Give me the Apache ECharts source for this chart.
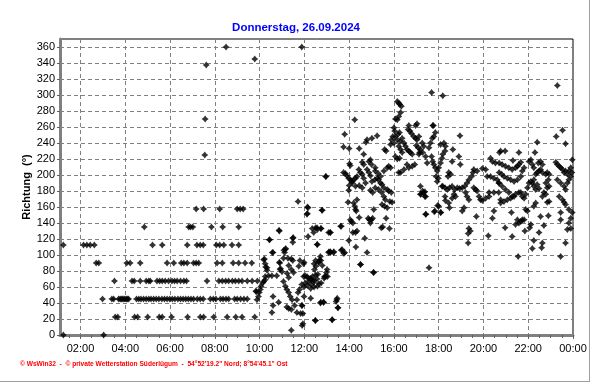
<!DOCTYPE html>
<html><head><meta charset="utf-8">
<script src="https://cdn.jsdelivr.net/npm/echarts@6/dist/echarts.min.js"></script>
<style>html,body{margin:0;padding:0;background:#fff}#c{width:592px;height:384px}</style>
</head><body><div id="c"></div>
<script>
const chartTitle = 'Donnerstag, 26.09.2024';
const yAxisName = 'Richtung  (°)';
const footerText = '\u00A9 WsWin32  -  \u00A9 private Wetterstation S\u00FCderl\u00FCgum  -  54\u00B052\'19.2" Nord; 8\u00B054\'45.1" Ost';

// x in minutes after midnight (26.09.2024), y in degrees
const xMin = 65, xMax = 1440;
const xTicks = [120, 240, 360, 480, 600, 720, 840, 960, 1080, 1200, 1320, 1440];
const xMinorTicks = [90, 120, 150, 180, 210, 240, 270, 300, 330, 360, 390, 420, 450, 480, 510, 540, 570, 600, 630, 660, 690, 720, 750, 780, 810, 840, 870, 900, 930, 960, 990, 1020, 1050, 1080, 1110, 1140, 1170, 1200, 1230, 1260, 1290, 1320, 1350, 1380, 1410, 1440];
const yTicks = [0, 20, 40, 60, 80, 100, 120, 140, 160, 180, 200, 220, 240, 260, 280, 300, 320, 340, 360];

// early morning: compass-sector readings, minutes per direction
const at22 = [213, 220, 265, 273, 300, 331, 339, 364, 407, 441, 450, 477, 513, 536, 553, 587];
const at45 = [179, 204, 209, 222, 226, 229, 232, 236, 239, 243, 246, 249, 270, 276, 282, 289, 296, 303, 309, 316, 323, 330, 338, 345, 352, 359, 366, 373, 381, 388, 395, 402, 409, 416, 423, 433, 441, 449, 468, 476, 483, 495, 502, 510, 517, 533, 540, 549, 558, 567];
const at67 = [211, 258, 264, 280, 296, 303, 307, 325, 332, 339, 347, 356, 365, 372, 379, 388, 397, 404, 459, 491, 500, 509, 517, 527, 535, 544, 553, 567, 580, 594];
const at90 = [162, 169, 244, 253, 280, 352, 370, 390, 397, 406, 423, 430, 437, 486, 500, 529, 544, 561, 579];
const at112 = [74, 128, 137, 146, 157, 313, 339, 406, 432, 441, 449, 484, 493, 504, 526, 544];
const at135 = [291, 410, 415, 421, 471, 501, 544];
const at157 = [430, 450, 493, 540, 548, 556];
const earlyOutliers = [[510, 360], [457, 337.5], [587, 345], [713, 360], [454, 270], [453, 225], [74, 0], [182, 0]];

// 10:00 - 13:30 rising phase
const rampPoints = [[591,54],[590,55],[593,44],[597,48],[599,53],[602,57],[604,61],[608,65],[611,67],[615,69],[613,95],[615,89],[620,84],[615,73],[611,94],[616,85],[620,81],[624,74],[633,74],[646,74],[626,119],[627,119],[652,131],[653,130],[636,103],[634,103],[669,107],[667,103],[664,96],[653,91],[655,82],[660,79],[676,96],[685,95],[689,93],[705,86],[678,87],[685,82],[691,78],[718,89],[751,86],[758,91],[761,94],[763,98],[779,78],[781,82],[664,67],[669,61],[673,57],[678,53],[682,48],[687,44],[673,35],[678,33],[685,32],[694,37],[700,44],[700,28],[713,37],[716,27],[703,53],[707,57],[636,48],[636,37],[633,28],[651,41],[718,73],[722,74],[727,73],[731,71],[713,63],[722,65],[731,67],[738,69],[738,63],[745,66],[754,70],[756,76],[747,82],[742,73],[765,65],[774,73],[782,73],[763,40],[772,41],[749,18],[716,14],[685,6],[689,121],[689,116],[730,123],[745,128],[754,134],[765,133],[754,113],[785,128],[785,103],[703,167],[730,159],[727,151],[767,156],[778,198],[665,106],[670,108],[690,122],[708,93],[674,77],[678,72],[656,83],[654,90],[741,133],[750,134],[755,132],[764,133],[755,113],[789,128],[817,136],[790,104],[799,104],[786,104],[819,106],[826,102],[871,88],[905,78],[719,91],[746,89],[750,93],[759,91],[764,93],[768,87],[737,71],[746,68],[750,75],[773,71],[777,73],[719,60],[728,62],[737,58],[746,60],[755,61],[759,64],[719,48],[737,46],[764,41],[771,41],[808,46],[810,34],[714,37],[710,27],[714,12],[750,18],[795,19],[777,198],[728,160],[728,152],[768,156]];

// 13:00 - 17:00
const afternoonPoints = [[794,19],[807,44],[805,42],[810,34],[790,103],[798,103],[790,128],[819,136],[821,107],[828,103],[839,118],[850,128],[857,128],[861,130],[843,144],[846,142],[850,140],[837,166],[852,165],[855,161],[857,157],[859,155],[861,169],[867,147],[858,110],[870,88],[882,121],[888,103],[891,146],[894,144],[897,140],[900,144],[903,146],[906,157],[906,78],[926,134],[930,135],[948,133],[939,146],[928,163],[935,161],[942,159],[955,166],[839,181],[825,203],[830,202],[834,199],[839,196],[843,194],[848,192],[852,194],[857,196],[861,198],[866,207],[870,203],[875,201],[879,196],[884,190],[888,207],[893,203],[897,199],[879,213],[893,217],[900,213],[910,209],[901,192],[909,194],[915,196],[919,194],[924,190],[928,188],[933,184],[942,182],[910,205],[918,202],[924,198],[933,205],[942,209],[946,211],[951,209],[935,232],[939,230],[888,244],[885,241],[901,246],[915,249],[828,251],[825,235],[840,233],[855,269],[867,233],[879,226],[875,216],[897,219],[841,214],[843,212],[857,186],[867,187],[875,184],[840,187],[848,190],[897,181],[903,178],[910,184],[919,182],[927,178],[933,173],[937,169],[946,180],[953,178],[949,167],[973,203],[969,292],[973,290],[976,288],[980,286],[978,278],[973,273],[969,269],[964,270],[960,259],[962,255],[957,248],[953,244],[960,240],[951,238],[964,248],[971,251],[975,253],[969,244],[977,242],[982,246],[987,240],[991,236],[995,232],[1000,230],[1004,228],[1009,226],[998,257],[1003,255],[1007,252],[1013,248],[1018,246],[1022,244],[1000,262],[1022,264],[1018,262],[973,236],[978,232],[982,228],[975,221],[969,220],[964,223],[995,213],[1000,209],[1009,211],[1016,213],[978,203],[987,207],[1020,237],[1025,234],[1029,228],[1031,176]];

// 17:00 - 20:45
const eveningPoints = [[1061,303],[1091,299],[1064,262],[1027,248],[1036,240],[1040,236],[1031,232],[1027,226],[1037,228],[1045,223],[1049,215],[1054,234],[1058,240],[1063,246],[1067,248],[1071,253],[1061,223],[1064,217],[1067,213],[1071,209],[1076,205],[1080,209],[1085,215],[1089,221],[1091,226],[1097,230],[1085,238],[1094,240],[1098,236],[1073,198],[1079,196],[1076,192],[1089,186],[1107,203],[1112,201],[1105,198],[1118,232],[1116,217],[1134,223],[1138,213],[1137,249],[1031,186],[1040,178],[1045,173],[1037,180],[1045,151],[1070,155],[1085,153],[1080,161],[1097,173],[1098,168],[1107,165],[1109,159],[1054,84],[1091,186],[1097,184],[1103,182],[1109,184],[1116,186],[1123,182],[1130,184],[1136,183],[1143,184],[1150,186],[1156,190],[1161,194],[1168,198],[1172,203],[1121,176],[1125,173],[1116,171],[1143,155],[1148,159],[1152,178],[1156,173],[1161,169],[1174,184],[1179,182],[1183,180],[1188,173],[1192,169],[1197,168],[1206,171],[1215,173],[1181,148],[1161,133],[1165,130],[1159,127],[1159,115],[1213,124],[1224,146],[1174,207],[1183,205],[1197,208],[1206,207],[1210,198],[1219,198],[1228,196],[1237,194],[1241,190],[1219,221],[1224,217],[1232,215],[1243,228],[1215,178],[1228,178],[1241,178],[1246,169],[1228,155],[1032,176],[1043,179],[1043,173],[1046,151],[1068,154],[1077,162],[1086,153],[1066,262]];

// 20:45 - 24:00
const latePoints = [[1398,312],[1412,256],[1395,248],[1420,239],[1344,241],[1246,230],[1258,230],[1295,228],[1338,228],[1279,218],[1242,215],[1250,213],[1259,211],[1268,209],[1277,207],[1286,209],[1291,211],[1295,213],[1300,216],[1242,203],[1249,201],[1255,198],[1264,196],[1273,194],[1282,192],[1291,194],[1242,190],[1250,186],[1259,182],[1268,178],[1277,173],[1286,176],[1295,178],[1246,165],[1255,167],[1264,169],[1273,171],[1282,173],[1300,178],[1304,173],[1309,171],[1313,176],[1318,184],[1322,190],[1327,192],[1331,190],[1335,194],[1340,201],[1344,203],[1349,205],[1353,207],[1358,203],[1367,201],[1371,203],[1376,201],[1331,213],[1335,209],[1347,215],[1353,217],[1358,213],[1309,209],[1304,205],[1300,198],[1322,217],[1327,219],[1335,186],[1344,188],[1340,182],[1349,183],[1362,178],[1367,176],[1358,173],[1371,184],[1376,186],[1374,194],[1367,190],[1371,166],[1376,167],[1340,165],[1335,161],[1353,148],[1362,137],[1349,128],[1335,118],[1358,115],[1356,109],[1331,108],[1313,157],[1318,155],[1291,144],[1295,140],[1300,142],[1304,144],[1309,144],[1286,138],[1311,130],[1327,138],[1324,134],[1275,153],[1258,134],[1277,123],[1293,98],[1394,216],[1398,213],[1403,211],[1407,209],[1412,207],[1416,203],[1420,205],[1425,201],[1429,205],[1434,209],[1438,219],[1398,194],[1407,190],[1416,186],[1420,182],[1425,190],[1429,194],[1434,198],[1437,203],[1403,173],[1412,169],[1416,166],[1420,163],[1429,157],[1438,153],[1434,146],[1429,140],[1425,132],[1434,133],[1407,153],[1407,144],[1374,149],[1420,115],[1407,98]];

function rowPairs(mins, deg) { return mins.map(m => [m, deg]); }
const allPoints = [].concat(
  rowPairs(at22, 22.5), rowPairs(at45, 45), rowPairs(at67, 67.5), rowPairs(at90, 90),
  rowPairs(at112, 112.5), rowPairs(at135, 135), rowPairs(at157, 157.5),
  earlyOutliers, rampPoints, afternoonPoints, eveningPoints, latePoints
);

function fmtTime(m) {
  const h = Math.floor(m / 60) % 24, mm = Math.round(m % 60);
  return String(h).padStart(2, '0') + ':' + String(mm).padStart(2, '0');
}

const font = 'Liberation Sans, Arial, sans-serif';
const chart = echarts.init(document.getElementById('c'), null, {renderer: 'canvas'});
chart.setOption({
  animation: false,
  backgroundColor: '#ffffff',
  title: {
    text: chartTitle, left: 'center', top: 17,
    textStyle: {fontFamily: font, fontSize: 11.5, fontWeight: 'bold', color: '#0000ff'}
  },
  grid: {left: 60, right: 19, top: 39, bottom: 49, show: true, borderColor: '#000', borderWidth: 1, backgroundColor: 'transparent'},
  xAxis: [{
    type: 'value', min: xMin, max: xMax,
    axisLine: {show: true, lineStyle: {color: '#808080', width: 3}},
    axisTick: {show: true, customValues: xTicks, length: 4, lineStyle: {color: '#606060'}},
    axisLabel: {customValues: xTicks, formatter: v => fmtTime(v), fontFamily: font, fontSize: 11, color: '#000', margin: 8},
    splitLine: {show: true, lineStyle: {color: '#808080', type: [4, 3], width: 1}}
  }, {
    type: 'value', min: xMin, max: xMax, position: 'bottom',
    axisLine: {show: false},
    axisTick: {show: true, customValues: xMinorTicks, length: 3, lineStyle: {color: '#606060'}},
    axisLabel: {show: false},
    splitLine: {show: false}
  }],
  yAxis: {
    type: 'value', min: 0, max: 370,
    name: yAxisName, nameLocation: 'middle', nameGap: 28, nameRotate: 90, nameMoveOverlap: false,
    nameTextStyle: {fontFamily: font, fontSize: 11, fontWeight: 'bold', color: '#000'},
    axisLine: {show: true, lineStyle: {color: '#808080', width: 3}},
    axisTick: {show: true, customValues: yTicks, length: 3, lineStyle: {color: '#606060'}},
    axisLabel: {customValues: yTicks, fontFamily: font, fontSize: 11, color: '#000', margin: 5},
    splitLine: {show: true, lineStyle: {color: '#808080', type: [4, 3], width: 1}}
  },
  series: [{
    type: 'scatter', xAxisIndex: 0, data: allPoints,
    symbol: 'path://M0,-4 L1.7,-1.7 L4,0 L1.7,1.7 L0,4 L-1.7,1.7 L-4,0 L-1.7,-1.7 Z',
    symbolSize: 7, itemStyle: {color: '#000'}, clip: false
  }],
  graphic: [
    {type: 'text', left: 20, top: 361, style: {text: footerText, fill: '#ff0000', font: 'bold 6.6px ' + font}},
    {type: 'line', shape: {x1: 589.5, y1: 0, x2: 589.5, y2: 382}, style: {stroke: '#a0a0a0', lineWidth: 1}},
    {type: 'line', shape: {x1: 0, y1: 381.5, x2: 590, y2: 381.5}, style: {stroke: '#a0a0a0', lineWidth: 1}}
  ]
});
</script></body></html>
